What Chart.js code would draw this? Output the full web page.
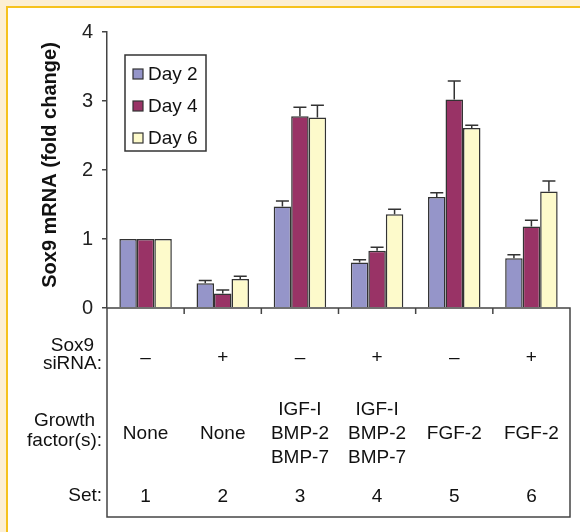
<!DOCTYPE html>
<html>
<head>
<meta charset="utf-8">
<script src="https://cdn.jsdelivr.net/npm/chart.js@4.4.1/dist/chart.umd.min.js"></script>
<style>
  html, body { margin: 0; padding: 0; background: #fcefd4; }
  #wrap { position: relative; width: 580px; height: 532px; }
</style>
</head>
<body>
<div id="wrap"><canvas id="chart" width="580" height="532"></canvas></div>
<script>
// --- dados ---
const sets = ['1', '2', '3', '4', '5', '6'];
const seriesNames = ['Day 2', 'Day 4', 'Day 6'];
const day2 = [1, 0.36, 1.47, 0.66, 1.61, 0.72];
const day4 = [1, 0.21, 2.78, 0.83, 3.02, 1.18];
const day6 = [1, 0.42, 2.76, 1.36, 2.61, 1.69];
const err2 = [0, 0.04, 0.08, 0.04, 0.06, 0.05];
const err4 = [0, 0.05, 0.13, 0.05, 0.27, 0.09];
const err6 = [0, 0.04, 0.18, 0.07, 0.04, 0.15];
const sirna = ['–', '+', '–', '+', '–', '+'];
const growthFactors = [['None'], ['None'], ['IGF-I', 'BMP-2', 'BMP-7'], ['IGF-I', 'BMP-2', 'BMP-7'], ['FGF-2'], ['FGF-2']];
const yTicks = [0, 1, 2, 3, 4];

const colors = ['#9595c9', '#993366', '#fdfacb'];
const edge = '#333333';
const FONT = 'Arial, "Liberation Sans", sans-serif';

// moldura creme/amarela + painel branco
const framePlugin = {
    id: 'frame',
    beforeDraw(chart) {
        const ctx = chart.ctx;
        ctx.save();
        ctx.fillStyle = '#fcefd4';
        ctx.fillRect(0, 0, chart.width, chart.height);
        ctx.fillStyle = '#f6c21e';
        ctx.fillRect(6, 6, chart.width, chart.height);
        ctx.fillStyle = '#ffffff';
        ctx.fillRect(8, 8, chart.width, chart.height);
        ctx.restore();
    }
};

// barras de erro (só para cima)
const errorBars = {
    id: 'errorBars',
    afterDatasetsDraw(chart) {
        const ctx = chart.ctx;
        const y = chart.scales.y;
        ctx.save();
        ctx.strokeStyle = edge;
        ctx.lineWidth = 1.5;
        chart.data.datasets.forEach((ds, i) => {
            chart.getDatasetMeta(i).data.forEach((bar, j) => {
                const e = ds.errors[j];
                if (!e) return;
                const top = y.getPixelForValue(ds.data[j] + e);
                ctx.beginPath();
                ctx.moveTo(bar.x, bar.y);
                ctx.lineTo(bar.x, top);
                ctx.moveTo(bar.x - 6.5, top);
                ctx.lineTo(bar.x + 6.5, top);
                ctx.stroke();
            });
        });
        ctx.restore();
    }
};

// legenda em caixa, título do eixo y e tabela abaixo do gráfico
const extras = {
    id: 'extras',
    afterDraw(chart) {
        const ctx = chart.ctx;
        const area = chart.chartArea;
        const x = chart.scales.x;
        ctx.save();

        // legenda
        ctx.fillStyle = '#fff';
        ctx.strokeStyle = edge;
        ctx.lineWidth = 1.5;
        ctx.fillRect(125, 55, 81, 96);
        ctx.strokeRect(125, 55, 81, 96);
        ctx.font = '19px ' + FONT;
        ctx.textBaseline = 'middle';
        ctx.textAlign = 'left';
        chart.data.datasets.forEach((ds, i) => {
            const cy = 74 + i * 32;
            ctx.fillStyle = ds.backgroundColor;
            ctx.fillRect(133, cy - 5, 10, 10);
            ctx.lineWidth = 1.2;
            ctx.strokeRect(133, cy - 5, 10, 10);
            ctx.fillStyle = '#111';
            ctx.fillText(ds.label, 148, cy + 1);
        });

        // título do eixo y
        ctx.save();
        ctx.translate(50, 165);
        ctx.rotate(-Math.PI / 2);
        ctx.font = 'bold 20px ' + FONT;
        ctx.textAlign = 'center';
        ctx.fillStyle = '#111';
        ctx.fillText('Sox9 mRNA (fold change)', 0, 0);
        ctx.restore();

        // caixa da tabela
        ctx.strokeStyle = '#444';
        ctx.lineWidth = 1.5;
        ctx.strokeRect(area.left, area.bottom, area.right - area.left, 517 - area.bottom);

        // marcas entre categorias
        for (let i = 1; i < sets.length; i++) {
            const bx = (x.getPixelForValue(i - 1) + x.getPixelForValue(i)) / 2;
            ctx.beginPath();
            ctx.moveTo(bx, area.bottom);
            ctx.lineTo(bx, area.bottom + 6);
            ctx.stroke();
        }

        // rótulos das linhas (centrados em bloco, encostados à direita)
        ctx.fillStyle = '#111';
        ctx.font = '19px ' + FONT;
        const rx = 102;
        const block = (lines, ys) => {
            const w = Math.max(...lines.map(t => ctx.measureText(t).width));
            ctx.textAlign = 'center';
            lines.forEach((t, k) => ctx.fillText(t, rx - w / 2, ys[k]));
        };
        block(['Sox9', 'siRNA:'], [346, 364]);
        block(['Growth', 'factor(s):'], [421, 441]);
        ctx.textAlign = 'right';
        ctx.fillText('Set:', rx, 496);

        // conteúdo por categoria
        ctx.textAlign = 'center';
        sets.forEach((s, i) => {
            const cx = x.getPixelForValue(i);
            ctx.fillText(sirna[i], cx, 358);
            const lines = growthFactors[i];
            lines.forEach((t, k) => {
                ctx.fillText(t, cx, 434 + (k - (lines.length - 1) / 2) * 24);
            });
            ctx.fillText(s, cx, 497);
        });
        ctx.restore();
    }
};

const values = [day2, day4, day6];
const errors = [err2, err4, err6];

new Chart(document.getElementById('chart'), {
    type: 'bar',
    data: {
        labels: sets,
        datasets: seriesNames.map((name, i) => ({
            label: name,
            data: values[i],
            errors: errors[i],
            backgroundColor: colors[i],
            borderColor: edge,
            borderWidth: 1.5,
            borderSkipped: 'bottom',
            categoryPercentage: 0.68,
            barPercentage: 1
        }))
    },
    options: {
        responsive: false,
        animation: false,
        devicePixelRatio: 1,
        layout: { padding: { left: 47, right: 10, top: 32, bottom: 224 } },
        plugins: { legend: { display: false }, tooltip: { enabled: false } },
        scales: {
            x: {
                ticks: { display: false },
                grid: { display: false },
                border: { display: false },
                afterFit: (s) => { s.height = 0; }
            },
            y: {
                min: 0,
                max: 4,
                afterBuildTicks: (s) => { s.ticks = yTicks.map(v => ({ value: v })); },
                ticks: { font: { size: 20, family: FONT }, color: '#222', padding: 9 },
                grid: { drawOnChartArea: false, tickLength: 5, color: '#444', lineWidth: 1.5 },
                border: { display: true, color: '#444', width: 1.5 },
                afterFit: (s) => { s.width = 60; }
            }
        }
    },
    plugins: [framePlugin, errorBars, extras]
});
</script>
</body>
</html>
